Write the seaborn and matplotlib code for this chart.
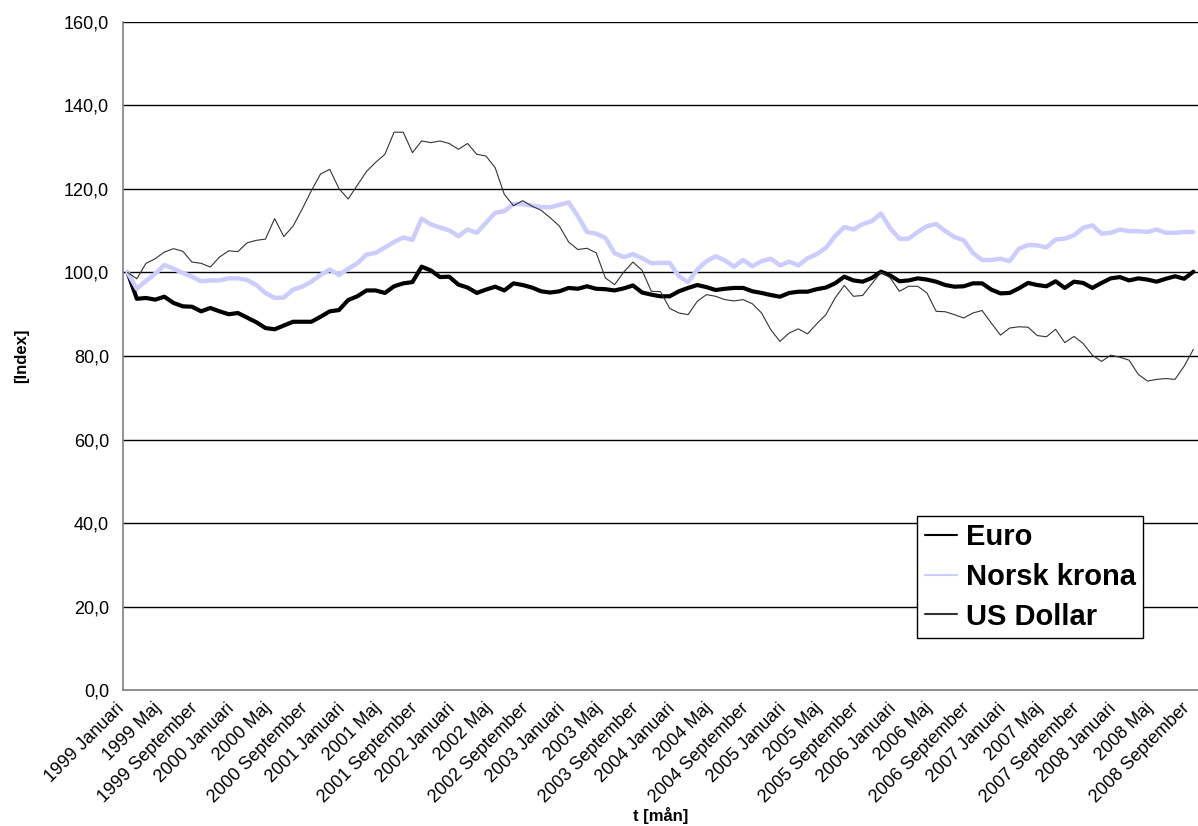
import pandas as pd
import seaborn as sns
import matplotlib.pyplot as plt
from matplotlib.transforms import ScaledTranslation

month_names = ["Januari", "Februari", "Mars", "April", "Maj", "Juni", "Juli",
               "Augusti", "September", "Oktober", "November", "December"]
years = list(range(1999, 2009))
months = [f"{y} {m}" for y in years for m in month_names][:117]

euro = [100.0, 93.7, 93.9, 93.5, 94.2, 92.7, 91.9, 91.8, 90.7, 91.5,
        90.7, 90.0, 90.3, 89.2, 88.1, 86.7, 86.4, 87.3, 88.2, 88.2,
        88.2, 89.4, 90.7, 91.0, 93.4, 94.3, 95.7, 95.7, 95.1, 96.7,
        97.4, 97.7, 101.4, 100.5, 98.9, 99.0, 97.1, 96.4, 95.1, 95.9,
        96.6, 95.7, 97.4, 97.0, 96.4, 95.5, 95.2, 95.5, 96.3, 96.1,
        96.7, 96.1, 96.0, 95.7, 96.2, 96.9, 95.2, 94.7, 94.3, 94.3,
        95.5, 96.3, 97.0, 96.5, 95.8, 96.1, 96.3, 96.3, 95.5, 95.1,
        94.6, 94.2, 95.1, 95.4, 95.4, 96.0, 96.4, 97.4, 99.0, 98.1,
        97.8, 98.7, 100.2, 99.3, 97.9, 98.1, 98.6, 98.3, 97.8, 97.0,
        96.6, 96.7, 97.4, 97.4, 95.9, 95.0, 95.1, 96.2, 97.5, 97.0,
        96.7, 97.9, 96.3, 97.8, 97.5, 96.3, 97.5, 98.6, 98.9, 98.1,
        98.6, 98.3, 97.8, 98.5, 99.1, 98.5, 100.2]

nok = [100.0, 96.1, 98.0, 99.7, 101.8, 100.9, 99.9, 99.0, 97.9, 98.1,
       98.1, 98.6, 98.6, 98.2, 97.0, 95.1, 93.9, 94.0, 95.9, 96.6,
       97.8, 99.4, 100.7, 99.4, 100.9, 102.2, 104.3, 104.7, 106.0, 107.3,
       108.4, 107.8, 112.9, 111.5, 110.8, 110.1, 108.7, 110.3, 109.5, 111.9,
       114.3, 114.7, 116.4, 116.4, 116.0, 115.7, 115.6, 116.2, 116.8, 113.5,
       109.7, 109.3, 108.3, 104.6, 103.7, 104.4, 103.4, 102.2, 102.3, 102.3,
       99.1, 97.7, 100.7, 102.7, 103.9, 102.9, 101.4, 103.0, 101.5, 102.7,
       103.3, 101.7, 102.6, 101.7, 103.4, 104.4, 105.9, 108.7, 110.9, 110.3,
       111.6, 112.3, 114.1, 110.6, 108.1, 108.1, 109.7, 111.1, 111.6, 109.9,
       108.5, 107.7, 104.7, 103.0, 103.0, 103.3, 102.7, 105.7, 106.6, 106.5,
       106.0, 107.9, 108.1, 108.9, 110.7, 111.3, 109.3, 109.5, 110.3, 109.9,
       109.9, 109.7, 110.3, 109.5, 109.5, 109.7, 109.7]

usd = [100.0, 98.5, 102.2, 103.3, 104.9, 105.7, 105.1, 102.5, 102.2, 101.3,
       103.7, 105.2, 105.0, 107.1, 107.7, 108.0, 112.9, 108.6, 111.1, 115.2,
       119.6, 123.6, 124.7, 120.1, 117.6, 120.9, 124.2, 126.4, 128.3, 133.6,
       133.6, 128.7, 131.5, 131.1, 131.5, 130.9, 129.5, 130.9, 128.3, 127.9,
       125.1, 118.7, 116.0, 117.2, 115.9, 114.9, 113.1, 111.1, 107.3, 105.5,
       105.8, 104.7, 98.7, 97.1, 100.1, 102.5, 100.5, 95.5, 95.4, 91.4,
       90.3, 89.9, 93.1, 94.7, 94.3, 93.5, 93.2, 93.5, 92.5, 90.3,
       86.3, 83.5, 85.5, 86.5, 85.3, 87.7, 89.9, 93.9, 96.9, 94.3,
       94.5, 97.3, 100.1, 98.7, 95.5, 96.7, 96.7, 95.1, 90.7, 90.6,
       89.9, 89.1, 90.3, 90.9, 87.9, 85.0, 86.7, 87.0, 86.9, 84.9,
       84.6, 86.4, 83.2, 84.7, 83.0, 80.2, 78.7, 80.2, 79.7, 79.0,
       75.6, 74.0, 74.4, 74.6, 74.4, 77.6, 81.6]

df = pd.DataFrame({"t": range(len(months)), "Euro": euro,
                   "Norsk krona": nok, "US Dollar": usd})

sns.set_style("white")
plt.rcParams["font.family"] = ["Liberation Sans", "DejaVu Sans"]
plt.rcParams["text.color"] = "black"
plt.rcParams["axes.labelcolor"] = "black"

fig = plt.figure(figsize=(11.98, 8.26), dpi=100)
ax = fig.add_axes([0.1027, 0.1646, 0.8973, 0.8088])

sns.lineplot(x="t", y="Euro", data=df, color="black", linewidth=3.0,
             label="Euro", ax=ax, zorder=3)
sns.lineplot(x="t", y="Norsk krona", data=df, color="#ccccff", linewidth=3.2,
             label="Norsk krona", ax=ax, zorder=3)
sns.lineplot(x="t", y="US Dollar", data=df, color="#333333", linewidth=0.8,
             label="US Dollar", ax=ax, zorder=4)

ax.set_ylim(0, 160)
ax.set_xlim(-0.5, 116.1)
ax.set_yticks(range(0, 161, 20))
ax.set_yticklabels([f"{v},0" for v in range(0, 161, 20)], fontsize=13)
ax.yaxis.grid(True, color="black", linewidth=1)
ax.set_axisbelow(True)

ax.set_xticks(range(0, len(months), 4))
ax.set_xticklabels(months[::4], rotation=45, ha="right",
                   rotation_mode="anchor", fontsize=13)
ax.set_xticks([i - 0.5 for i in range(len(months) + 1)], minor=True)
ax.tick_params(axis="x", which="major", length=0, pad=7, labelcolor="black")
ax.tick_params(axis="x", which="minor", length=5, direction="out", color="#808080")
ax.tick_params(axis="y", length=8, direction="inout", color="#808080", pad=6,
               labelcolor="black")

# shift the slanted month labels a little to the left, as in the original
shift = ScaledTranslation(-12 / 100, 0, fig.dpi_scale_trans)
for lbl in ax.get_xticklabels():
    lbl.set_transform(lbl.get_transform() + shift)

for side in ["top", "right"]:
    ax.spines[side].set_visible(False)
for side in ["left", "bottom"]:
    ax.spines[side].set_color("#808080")
    ax.spines[side].set_linewidth(1.2)

ax.set_xlabel("t [mån]", fontsize=12, fontweight="bold")
ax.xaxis.set_label_coords(0.5, -0.175)
ax.set_ylabel("[Index]", fontsize=12, fontweight="bold", labelpad=25)

leg = ax.legend(loc="lower left", bbox_to_anchor=(0.739, 0.078), borderaxespad=0,
                frameon=True, fancybox=False, edgecolor="black", framealpha=1,
                prop={"size": 21, "weight": "bold"}, handlelength=1.1,
                handletextpad=0.3, labelspacing=0.4, borderpad=0.25,
                labelcolor="black")
leg.get_frame().set_linewidth(1)
for h in leg.get_lines():
    h.set_linewidth(1.5)

fig.savefig("out.png", dpi=100)
